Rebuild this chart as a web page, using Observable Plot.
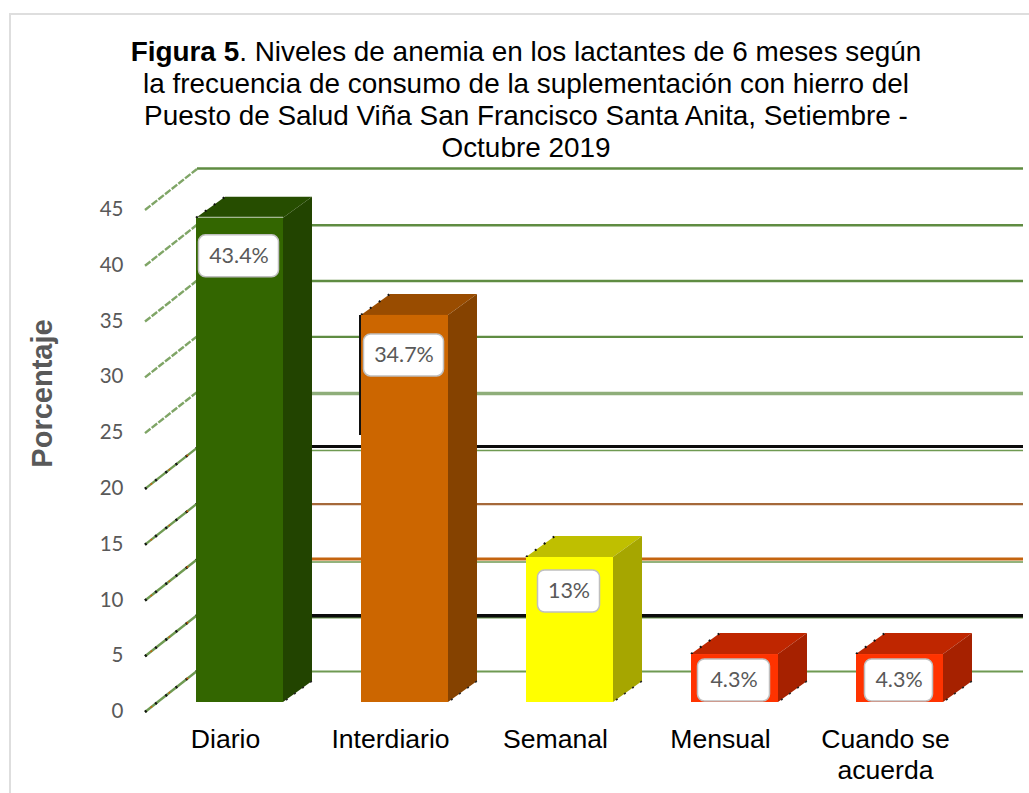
<!DOCTYPE html>
<html lang="es">
<head>
<meta charset="utf-8">
<script src="https://cdn.jsdelivr.net/npm/d3@7"></script>
<script src="https://cdn.jsdelivr.net/npm/@observablehq/plot@0.6"></script>
<style>
  html, body { margin: 0; padding: 0; background: #fff; overflow: hidden; }
  #page { position: relative; width: 1029px; height: 793px; overflow: hidden; }
  #frame { position: absolute; left: 9px; top: 13px; right: -4px; bottom: -4px;
           border-top: 2px solid #dedede; border-left: 2px solid #dedede; }
  #title { position: absolute; left: 0; top: 35.5px; width: 1052px; text-align: center;
           font: 27.9px/32.3px "Liberation Sans", Arial, sans-serif; color: #000; white-space: nowrap; }
  #chart { position: absolute; left: 0; top: 160px; }
</style>
</head>
<body>
<div id="page">
  <div id="frame"></div>
  <div id="title"><b>Figura 5</b>. Niveles de anemia en los lactantes de 6 meses según<br>la frecuencia de consumo de la suplementación con hierro del<br>Puesto de Salud Viña San Francisco Santa Anita, Setiembre -<br>Octubre 2019</div>
  <div id="chart"></div>
</div>
<script>
const categories = ["Diario", "Interdiario", "Semanal", "Mensual", "Cuando se\nacuerda"];
const values = [43.4, 34.7, 13, 4.3, 4.3];
const valueLabels = ["43.4%", "34.7%", "13%", "4.3%", "4.3%"];
const frontColors = ["#336600", "#cc6600", "#ffff00", "#ff3300", "#ff3300"];
const sideColors = ["#224400", "#854200", "#a6a600", "#a62100", "#a62100"];
const topColors = ["#264d00", "#994c00", "#bfbf00", "#bf2600", "#bf2600"];
const yTicks = [0, 5, 10, 15, 20, 25, 30, 35, 40, 45];
const gridColors = ["#6f9a52", "#0c0c0c", "#c4640f", "#a5693a", "#0c0c0c", "#8fae7a", "#5f8c42", "#5f8c42", "#5f8c42", "#5f8c42"];
const gridWidths = [2, 3.6, 3, 2.2, 3, 3.5, 2.4, 2.4, 2.4, 2.6];
const gridShift = [0, 0, -1, 0, -2, 1, 0, 0, 0, -1];
const underColors = [null, "#6f9a52", "#6f9a52", null, "#6f9a52", null, null, null, null, null];

const sansLabel = "Lato, sans-serif";
const sansMain = "'Liberation Sans', Arial, sans-serif";
const wallDx = 52, wallDy = -41, barDy = -10, depthDx = 29, depthDy = -21;
const labelDrop = [38, 40, 34, 26, 26];
const labelWidth = [80, 80, 62, 72, 68];
const labelHeight = 42;
const rows = categories.map((c, i) => ({c, v: values[i], i}));

function walls(index, {y}, values_, {marginLeft}) {
  const g = d3.create("svg:g");
  yTicks.forEach((t) => {
    const x0 = marginLeft, x1 = marginLeft + wallDx, y0 = y(t), y1 = y(t) + wallDy;
    const seg = () => g.append("line").attr("x1", x0).attr("y1", y0).attr("x2", x1).attr("y2", y1);
    seg().attr("stroke", t <= 20 ? "#6f9a52" : "#7fa566").attr("stroke-width", 2.4).attr("stroke-dasharray", t <= 20 ? null : "7 1.5");
    if (t <= 20) {
      seg().attr("stroke", "#111").attr("stroke-width", 2.6).attr("stroke-dasharray", "2 11");
      seg().attr("stroke", "#c4640f").attr("stroke-width", 1.6).attr("stroke-dasharray", "2 21").attr("stroke-dashoffset", -7);
    }
  });
  return g.node();
}

function faces(index, {x, y}) {
  const g = d3.create("svg:g");
  rows.forEach(({c, v, i}) => {
    const l = x(c), r = l + x.bandwidth(), t = y(v) + barDy, b = y(0) + barDy;
    const poly = (pts, fill) => g.append("polygon").attr("points", pts.map(p => p.join(",")).join(" ")).attr("fill", fill);
    poly([[l, t], [l + depthDx, t + depthDy], [r + depthDx, t + depthDy], [r, t]], topColors[i]);
    poly([[r, t], [r + depthDx, t + depthDy], [r + depthDx, b + depthDy], [r, b]], sideColors[i]);
    g.append("line").attr("x1", l).attr("y1", t).attr("x2", l + depthDx).attr("y2", t + depthDy)
      .attr("stroke", "#111").attr("stroke-width", 2).attr("stroke-dasharray", "2 9");
    g.append("line").attr("x1", r + 3).attr("y1", b - 2).attr("x2", r + depthDx).attr("y2", b + depthDy)
      .attr("stroke", "#222").attr("stroke-width", 1.6).attr("stroke-dasharray", "2 8");
  });
  // artefactos del original: línea negra junto a la segunda barra y brillo en la primera
  const l2 = x(categories[1]);
  g.append("line").attr("x1", l2 - 1).attr("x2", l2 - 1).attr("y1", y(values[1]) + barDy).attr("y2", y(values[1]) + barDy + 120)
    .attr("stroke", "#111").attr("stroke-width", 2);
  const l1 = x(categories[0]);
  g.append("line").attr("x1", l1 + 2).attr("x2", l1 + x.bandwidth()).attr("y1", y(values[0]) + barDy).attr("y2", y(values[0]) + barDy)
    .attr("stroke", "#b9c7ac").attr("stroke-width", 2);
  return g.node();
}

function labelBoxes(index, {x, y}) {
  const g = d3.create("svg:g");
  rows.forEach(({c, v, i}) => {
    const cx = x(c) + x.bandwidth() / 2 - 1, cy = y(v) + barDy + labelDrop[i];
    g.append("rect").attr("x", cx - labelWidth[i] / 2).attr("y", cy - labelHeight / 2)
      .attr("width", labelWidth[i]).attr("height", labelHeight).attr("rx", 7)
      .attr("fill", "#fff").attr("stroke", "#bfbfbf").attr("stroke-width", 1.5);
  });
  return g.node();
}

const chart = Plot.plot({
  width: 1029,
  height: 633,
  marginTop: 50,
  marginBottom: 81,
  marginLeft: 145,
  marginRight: 6,
  style: {background: "transparent"},
  x: {domain: categories, range: [156.5, 981.5], paddingInner: 0.473, paddingOuter: 0.2365, label: null},
  y: {domain: [0, 45], label: null},
  marks: [
    ...yTicks.map((t, i) => underColors[i]
      ? Plot.ruleY([t], {stroke: underColors[i], strokeWidth: 1.5, insetLeft: wallDx, dy: wallDy + 2})
      : null).filter(Boolean),
    ...yTicks.map((t, i) => Plot.ruleY([t], {stroke: gridColors[i], strokeWidth: gridWidths[i], insetLeft: wallDx, dy: wallDy + gridShift[i]})),
    walls,
    Plot.axisY({ticks: yTicks, tickSize: 0, tickPadding: 22, dy: -1, fontSize: 20.5, fontFamily: sansLabel, color: "#595959", label: null}),
    Plot.axisX({tickSize: 0, tickPadding: 13, dx: -14.5, fontSize: 26.6, fontFamily: sansMain, color: "#000", lineHeight: 1.17, label: null}),
    faces,
    Plot.barY(rows, {x: "c", y: "v", fill: d => frontColors[d.i], dy: barDy}),
    labelBoxes,
    ...rows.map(d => Plot.text([d], {x: "c", y: "v", text: () => valueLabels[d.i], dx: -1, dy: barDy + labelDrop[d.i], fontSize: 21.5, fontFamily: sansLabel, fill: "#595959"})),
    Plot.text(["Porcentaje"], {text: d => d, frameAnchor: "left", textAnchor: "middle", rotate: -90, dx: -103, dy: -68, fontSize: 29, fontWeight: "bold", fontFamily: sansMain, fill: "#595959"})
  ]
});
document.getElementById("chart").appendChild(chart);
</script>
</body>
</html>
